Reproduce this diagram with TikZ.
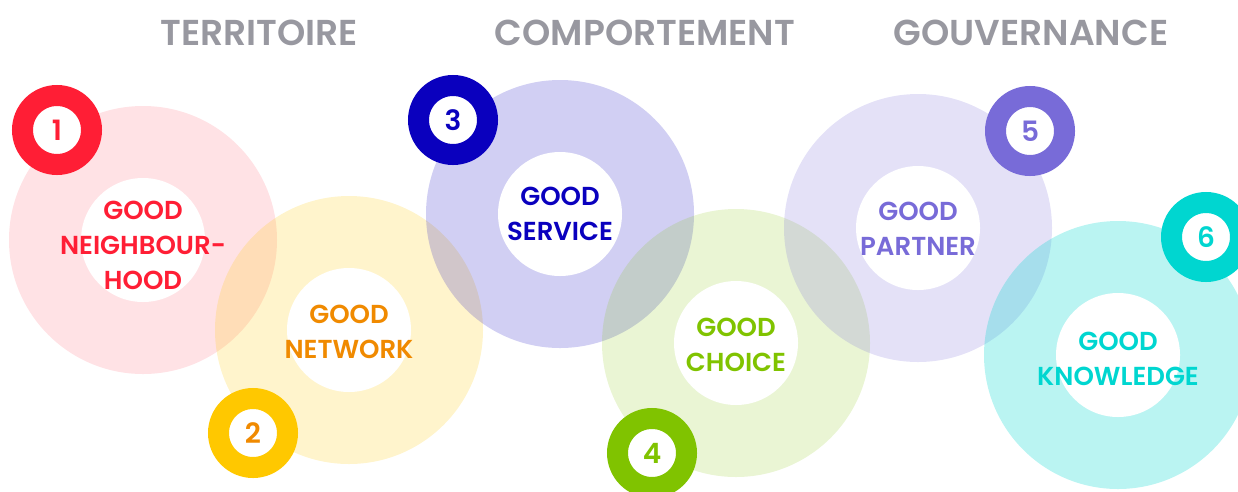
\documentclass[tikz,border=0pt]{standalone}
\usepackage{fontspec}
\setmainfont{Poppins}[BoldFont={Poppins SemiBold}]
\usepackage{tikz}

\definecolor{cRed}{RGB}{255,30,53}
\definecolor{cYellow}{RGB}{255,200,0}
\definecolor{cOrange}{RGB}{240,138,0}
\definecolor{cBlue}{RGB}{10,0,190}
\definecolor{cGreen}{RGB}{128,195,0}
\definecolor{cPurple}{RGB}{120,107,216}
\definecolor{cCyan}{RGB}{0,214,208}
\definecolor{cTitle}{RGB}{152,152,160}

\tikzset{
  ring/.style 2 args={circle, minimum size=268pt, inner sep=0pt, fill=#1, fill opacity=#2},
  hole/.style={circle, minimum size=124pt, inner sep=0pt, fill=white},
  label/.style={text=#1, align=center, font=\bfseries\fontsize{26}{35}\selectfont},
  badge/.style 2 args={circle, minimum size=69pt, inner sep=0pt, draw=#1, line width=21pt,
    fill=white, text=#2, font=\bfseries\fontsize{28}{30}\selectfont},
  heading/.style={text=cTitle, font=\bfseries\fontsize{36}{38}\selectfont}
}

\begin{document}
\begin{tikzpicture}[x=1pt, y=-1pt]
  \useasboundingbox (0,0) rectangle (1238,491);
  \clip (0,0) rectangle (1238,491);

  \node[heading] (territoire) at (259,33) {TERRITOIRE};
  \node[heading] (comportement) at (645,33) {COMPORTEMENT};
  \node[heading] (gouvernance) at (1031,33) {GOUVERNANCE};

  % big translucent circles
  \node[ring={cRed}{0.13}] (ring1) at (143,240) {};
  \node[ring={cYellow}{0.2}] (ring2) at (349,330) {};
  \node[ring={cBlue}{0.19}] (ring3) at (560,214) {};
  \node[ring={cGreen}{0.17}] (ring4) at (736,343) {};
  \node[ring={cPurple}{0.2}] (ring5) at (918,228) {};
  \node[ring={cCyan}{0.27}] (ring6) at (1118,355) {};

  \node[hole] (hole1) at (ring1) {};
  \node[hole] (hole2) at (ring2) {};
  \node[hole] (hole3) at (ring3) {};
  \node[hole] (hole4) at (ring4) {};
  \node[hole] (hole5) at (ring5) {};
  \node[hole] (hole6) at (ring6) {};

  \node[label=cRed] (good1) at ([yshift=-5pt]hole1) {GOOD\\NEIGHBOUR-\\HOOD};
  \node[label=cOrange] (good2) at ([yshift=-2pt]hole2) {GOOD\\NETWORK};
  \node[label=cBlue] (good3) at (hole3) {GOOD\\SERVICE};
  \node[label=cGreen] (good4) at ([yshift=-2pt]hole4) {GOOD\\CHOICE};
  \node[label=cPurple] (good5) at ([yshift=-1pt]hole5) {GOOD\\PARTNER};
  \node[label=cCyan] (good6) at ([yshift=-4pt]hole6) {GOOD\\KNOWLEDGE};

  % numbered badges
  \node[badge={cRed}{cRed}] (num1) at (57,130) {1};
  \node[badge={cYellow}{cOrange}] (num2) at (253,433) {2};
  \node[badge={cBlue}{cBlue}] (num3) at (453,120) {3};
  \node[badge={cGreen}{cGreen}] (num4) at (652,453) {4};
  \node[badge={cPurple}{cPurple}] (num5) at (1030,131) {5};
  \node[badge={cCyan}{cCyan}] (num6) at (1206,237) {6};
\end{tikzpicture}
\end{document}
